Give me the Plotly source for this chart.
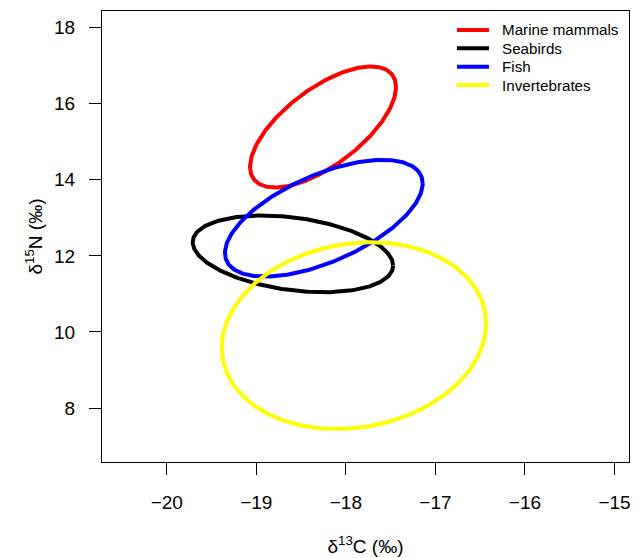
import numpy as np
import plotly.graph_objects as go

# Group names and colours
groups = ["Marine mammals", "Seabirds", "Fish", "Invertebrates"]
colors = ["#FF0000", "#000000", "#0000FF", "#FFFF00"]

# Standard ellipse parameters
center_c13 = [-18.255, -18.591, -18.246, -17.910]   # ellipse centre, d13C
center_n15 = [15.39, 12.053, 12.99, 9.903]          # ellipse centre, d15N
half_width_c13 = [0.815, 1.119, 1.104, 1.476]       # half extent along d13C
half_height_n15 = [1.592, 1.009, 1.535, 2.456]      # half extent along d15N
correlation = [0.658, -0.305, 0.595, 0.129]          # C/N correlation

x_ticks = [-20, -19, -18, -17, -16, -15]
y_ticks = [8, 10, 12, 14, 16, 18]

t = np.linspace(0, 2 * np.pi, 361)
fig = go.Figure()
for g, col, cx, cy, a, b, r in zip(groups, colors, center_c13, center_n15,
                                   half_width_c13, half_height_n15, correlation):
    x = cx + a * np.cos(t)
    y = cy + b * (r * np.cos(t) + np.sqrt(1 - r * r) * np.sin(t))
    fig.add_trace(go.Scatter(x=x, y=y, mode="lines", name=g, showlegend=False,
                             line=dict(color=col, width=4)))

# Legend drawn in paper coordinates (compact R-style legend)
leg_line_x0, leg_line_x1, leg_text_x = 0.6736, 0.7343, 0.7552
leg_top, leg_step = 0.9579, 0.0407
for i, (g, col) in enumerate(zip(groups, colors)):
    yy = leg_top - i * leg_step
    fig.add_shape(type="line", xref="paper", yref="paper",
                  x0=leg_line_x0, x1=leg_line_x1, y0=yy, y1=yy,
                  line=dict(color=col, width=4))
    fig.add_annotation(xref="paper", yref="paper", x=leg_text_x, y=yy,
                       text=g, showarrow=False, xanchor="left", yanchor="middle",
                       font=dict(size=15.2))

font = "Liberation Sans, Arial, Helvetica, sans-serif"
fig.update_layout(
    width=643, height=558,
    margin=dict(l=102, r=14, t=11, b=96),
    paper_bgcolor="white", plot_bgcolor="white",
    font=dict(family=font, color="black", size=19),
    showlegend=False,
)
fig.update_xaxes(range=[-20.723, -14.838], tickvals=x_ticks, automargin=False,
                 showgrid=False, zeroline=False, showline=True, mirror=True,
                 linecolor="black", linewidth=1.3, ticks="outside", ticklen=12,
                 tickwidth=1.3, tickcolor="black", ticklabelstandoff=11,
                 tickfont=dict(size=19),
                 title=dict(text="δ<sup>13</sup>C (‰)", font=dict(size=19), standoff=27))
fig.update_yaxes(range=[6.58, 18.44], tickvals=y_ticks, automargin=False,
                 showgrid=False, zeroline=False, showline=True, mirror=True,
                 linecolor="black", linewidth=1.3, ticks="outside", ticklen=12,
                 tickwidth=1.3, tickcolor="black", ticklabelstandoff=10,
                 tickfont=dict(size=19),
                 title=dict(text="δ<sup>15</sup>N (‰)", font=dict(size=19), standoff=6))
fig.write_html("out.html")
